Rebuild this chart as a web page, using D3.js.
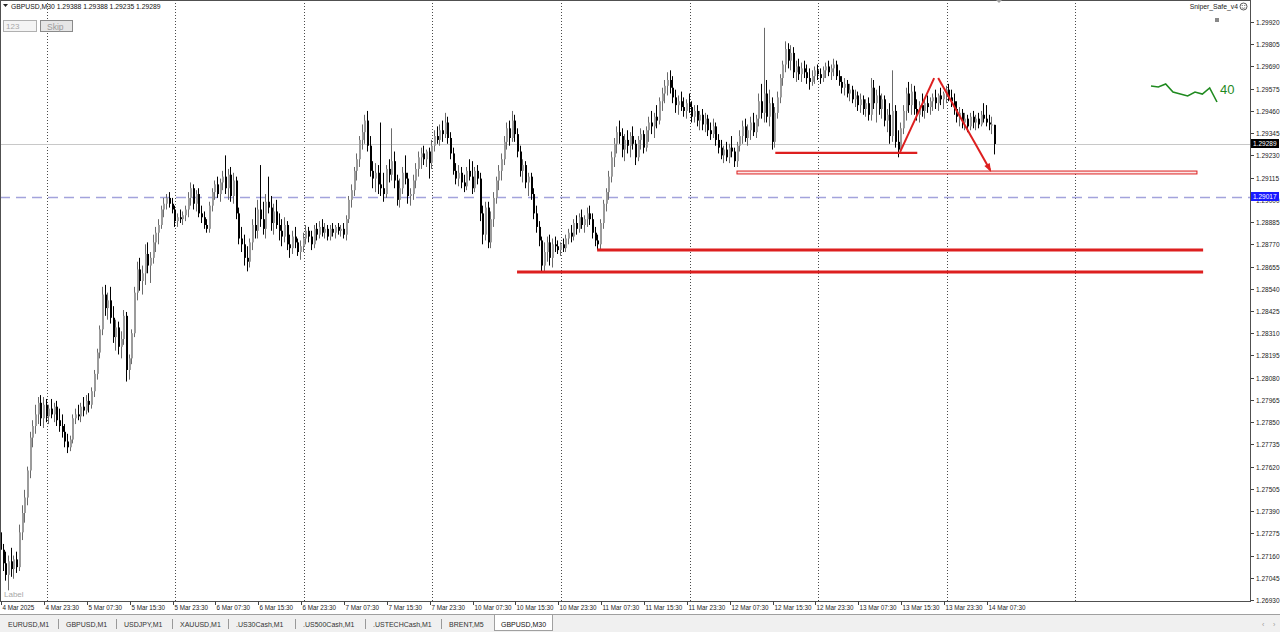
<!DOCTYPE html>
<html><head><meta charset="utf-8">
<script src="https://cdn.jsdelivr.net/npm/d3@7"></script>
<style>html,body{margin:0;padding:0;background:#fff;overflow:hidden}svg{display:block}text{font-family:"Liberation Sans",Arial,sans-serif}</style>
</head><body><svg id="c" width="1280" height="632"></svg>
<script>
// ---- GBPUSD M30 bars (bar 0 = 4 Mar 2025 15:30) ----
const opens=[
1.2728,1.2719,1.2712,1.2706,1.2713,1.2709,1.2714,1.2710,1.2728,1.2738,
1.2746,1.2760,1.2777,1.2783,1.2789,1.2795,1.2787,1.2794,1.2788,1.2792,
1.2789,1.2793,1.2786,1.2783,1.2780,1.2775,1.2772,1.2776,1.2787,1.2789,
1.2788,1.2793,1.2791,1.2796,1.2794,1.2801,1.2810,1.2821,1.2833,1.2851,
1.2844,1.2848,1.2839,1.2829,1.2834,1.2824,1.2828,1.2840,1.2812,1.2818,
1.2831,1.2852,1.2864,1.2858,1.2862,1.2872,1.2866,1.2870,1.2878,1.2883,
1.2887,1.2895,1.2898,1.2901,1.2898,1.2895,1.2889,1.2891,1.2890,1.2892,
1.2895,1.2901,1.2906,1.2898,1.2903,1.2893,1.2891,1.2887,1.2885,1.2897,
1.2904,1.2908,1.2903,1.2909,1.2912,1.2906,1.2913,1.2902,1.2910,1.2893,
1.2880,1.2877,1.2870,1.2868,1.2878,1.2887,1.2884,1.2895,1.2890,1.2885,
1.2899,1.2896,1.2888,1.2894,1.2887,1.2884,1.2881,1.2887,1.2877,1.2875,
1.2881,1.2878,1.2873,1.2876,1.2880,1.2884,1.2881,1.2877,1.2885,1.2882,
1.2886,1.2883,1.2885,1.2881,1.2885,1.2883,1.2886,1.2884,1.2885,1.2882,
1.2890,1.2900,1.2905,1.2915,1.2921,1.2931,1.2935,1.2941,1.2928,1.2915,
1.2911,1.2914,1.2908,1.2906,1.2903,1.2916,1.2913,1.2920,1.2910,1.2900,
1.2906,1.2914,1.2911,1.2902,1.2903,1.2910,1.2916,1.2922,1.2924,1.2921,
1.2925,1.2919,1.2928,1.2933,1.2931,1.2936,1.2934,1.2940,1.2932,1.2924,
1.2915,1.2911,1.2914,1.2909,1.2907,1.2915,1.2912,1.2906,1.2915,1.2911,
1.2893,1.2882,1.2896,1.2878,1.2890,1.2901,1.2910,1.2915,1.2921,1.2930,
1.2937,1.2932,1.2941,1.2934,1.2925,1.2915,1.2918,1.2909,1.2912,1.2903,
1.2893,1.2886,1.2879,1.2866,1.2873,1.2878,1.2870,1.2877,1.2876,1.2874,
1.2877,1.2875,1.2880,1.2883,1.2881,1.2888,1.2885,1.2891,1.2887,1.2890,
1.2893,1.2890,1.2883,1.2879,1.2877,1.2888,1.2898,1.2904,1.2912,1.2922,
1.2929,1.2935,1.2933,1.2926,1.2931,1.2928,1.2933,1.2929,1.2922,1.2931,
1.2934,1.2927,1.2936,1.2940,1.2938,1.2943,1.2941,1.2951,1.2955,1.2959,
1.2962,1.2958,1.2953,1.2949,1.2951,1.2948,1.2946,1.2950,1.2948,1.2943,
1.2946,1.2941,1.2944,1.2939,1.2942,1.2936,1.2934,1.2938,1.2931,1.2927,
1.2923,1.2926,1.2922,1.2927,1.2925,1.2920,1.2928,1.2933,1.2938,1.2932,
1.2936,1.2940,1.2935,1.2942,1.2951,1.2945,1.2955,1.2943,1.2950,1.2930,
1.2945,1.2953,1.2963,1.2970,1.2978,1.2972,1.2976,1.2966,1.2969,1.2965,
1.2968,1.2966,1.2963,1.2961,1.2964,1.2967,1.2965,1.2963,1.2967,1.2969,
1.2966,1.2968,1.2970,1.2964,1.2961,1.2958,1.2960,1.2955,1.2957,1.2952,
1.2954,1.2949,1.2952,1.2947,1.2950,1.2944,1.2958,1.2950,1.2954,1.2947,
1.2952,1.2941,1.2944,1.2933,1.2946,1.2930,1.2926,1.2937,1.2946,1.2955,
1.2949,1.2956,1.2947,1.2944,1.2949,1.2946,1.2950,1.2948,1.2951,1.2953,
1.2950,1.2954,1.2952,1.2955,1.2957,1.2953,1.2951,1.2947,1.2943,1.2945,
1.2940,1.2942,1.2938,1.2943,1.2940,1.2942,1.2939,1.2944,1.2942,1.2940,
1.2939,1.29388];
const highs=[
1.2732,1.2722,1.2718,1.2716,1.2720,1.2716,1.2718,1.2732,1.2742,1.2750,
1.2762,1.2780,1.2786,1.2794,1.2798,1.2799,1.2798,1.2797,1.2794,1.2797,
1.2795,1.2796,1.2792,1.2789,1.2784,1.2779,1.2778,1.2789,1.2792,1.2794,
1.2795,1.2798,1.2799,1.2800,1.2803,1.2812,1.2823,1.2835,1.2855,1.2856,
1.2852,1.2855,1.2845,1.2838,1.2837,1.2832,1.2843,1.2842,1.2820,1.2833,
1.2855,1.2868,1.2870,1.2866,1.2877,1.2878,1.2873,1.2882,1.2886,1.2890,
1.2897,1.2901,1.2903,1.2904,1.2901,1.2897,1.2893,1.2895,1.2894,1.2897,
1.2904,1.2909,1.2908,1.2905,1.2906,1.2897,1.2894,1.2890,1.2899,1.2906,
1.2910,1.2912,1.2911,1.2915,1.2923,1.2916,1.2917,1.2914,1.2912,1.2896,
1.2886,1.2882,1.2876,1.2880,1.2890,1.2896,1.2900,1.2918,1.2899,1.2903,
1.2912,1.2902,1.2898,1.2900,1.2893,1.2890,1.2891,1.2889,1.2882,1.2884,
1.2886,1.2880,1.2879,1.2883,1.2887,1.2886,1.2884,1.2887,1.2888,1.2889,
1.2890,1.2888,1.2887,1.2887,1.2888,1.2887,1.2888,1.2887,1.2888,1.2892,
1.2902,1.2908,1.2917,1.2924,1.2933,1.2939,1.2944,1.2946,1.2933,1.2920,
1.2919,1.2918,1.2940,1.2914,1.2918,1.2921,1.2937,1.2925,1.2913,1.2911,
1.2917,1.2923,1.2914,1.2906,1.2913,1.2919,1.2925,1.2927,1.2928,1.2926,
1.2927,1.2931,1.2936,1.2938,1.2939,1.2941,1.2945,1.2943,1.2935,1.2927,
1.2919,1.2918,1.2917,1.2913,1.2917,1.2921,1.2920,1.2917,1.2918,1.2914,
1.2897,1.2899,1.2899,1.2894,1.2904,1.2912,1.2918,1.2924,1.2933,1.2940,
1.2941,1.2946,1.2944,1.2937,1.2928,1.2921,1.2920,1.2914,1.2914,1.2906,
1.2897,1.2889,1.2881,1.2878,1.2881,1.2882,1.2880,1.2881,1.2879,1.2878,
1.2880,1.2882,1.2885,1.2887,1.2890,1.2892,1.2893,1.2895,1.2892,1.2896,
1.2897,1.2893,1.2886,1.2882,1.2890,1.2900,1.2906,1.2915,1.2925,1.2932,
1.2938,1.2941,1.2937,1.2934,1.2936,1.2935,1.2938,1.2931,1.2933,1.2937,
1.2936,1.2938,1.2943,1.2946,1.2945,1.2949,1.2953,1.2958,1.2962,1.2966,
1.2967,1.2964,1.2957,1.2954,1.2956,1.2953,1.2952,1.2955,1.2951,1.2949,
1.2949,1.2946,1.2947,1.2945,1.2944,1.2940,1.2942,1.2940,1.2934,1.2931,
1.2928,1.2930,1.2929,1.2933,1.2927,1.2930,1.2936,1.2941,1.2942,1.2939,
1.2943,1.2945,1.2944,1.2955,1.2960,1.2989,1.2962,1.2957,1.2953,1.2948,
1.2956,1.2965,1.2972,1.2982,1.2981,1.2980,1.2979,1.2972,1.2973,1.2971,
1.2972,1.2970,1.2968,1.2967,1.2969,1.2970,1.2968,1.2969,1.2971,1.2972,
1.2970,1.2973,1.2972,1.2967,1.2964,1.2963,1.2962,1.2960,1.2959,1.2957,
1.2956,1.2955,1.2954,1.2952,1.2953,1.2963,1.2962,1.2957,1.2959,1.2955,
1.2954,1.2947,1.2950,1.2967,1.2949,1.2936,1.2940,1.2949,1.2958,1.2961,
1.2960,1.2959,1.2952,1.2951,1.2955,1.2952,1.2954,1.2953,1.2955,1.2957,
1.2955,1.2958,1.2956,1.2959,1.2960,1.2957,1.2955,1.2951,1.2948,1.2947,
1.2945,1.2944,1.2945,1.2946,1.2944,1.2945,1.2946,1.2950,1.2949,1.2944,
1.2943,1.29388];
const lows=[
1.2716,1.2708,1.2703,1.2698,1.2705,1.2704,1.2707,1.2708,1.2724,1.2733,
1.2742,1.2756,1.2772,1.2779,1.2784,1.2783,1.2782,1.2785,1.2784,1.2787,
1.2785,1.2783,1.2780,1.2777,1.2772,1.2769,1.2770,1.2774,1.2784,1.2786,
1.2785,1.2788,1.2789,1.2790,1.2792,1.2798,1.2807,1.2818,1.2830,1.2840,
1.2838,1.2836,1.2826,1.2822,1.2820,1.2818,1.2825,1.2806,1.2807,1.2815,
1.2829,1.2848,1.2853,1.2851,1.2856,1.2862,1.2857,1.2867,1.2873,1.2877,
1.2885,1.2891,1.2895,1.2896,1.2893,1.2886,1.2886,1.2888,1.2887,1.2889,
1.2891,1.2897,1.2895,1.2894,1.2891,1.2888,1.2885,1.2883,1.2883,1.2894,
1.2900,1.2901,1.2899,1.2905,1.2903,1.2900,1.2899,1.2898,1.2890,1.2877,
1.2873,1.2866,1.2863,1.2865,1.2874,1.2880,1.2880,1.2886,1.2882,1.2880,
1.2893,1.2884,1.2882,1.2885,1.2879,1.2876,1.2878,1.2874,1.2870,1.2872,
1.2875,1.2871,1.2869,1.2873,1.2877,1.2878,1.2874,1.2875,1.2879,1.2880,
1.2881,1.2880,1.2879,1.2879,1.2881,1.2880,1.2882,1.2881,1.2880,1.2879,
1.2888,1.2896,1.2902,1.2910,1.2917,1.2926,1.2929,1.2925,1.2912,1.2906,
1.2904,1.2903,1.2902,1.2899,1.2901,1.2909,1.2910,1.2906,1.2897,1.2896,
1.2903,1.2908,1.2898,1.2897,1.2900,1.2906,1.2912,1.2916,1.2918,1.2917,
1.2911,1.2916,1.2925,1.2929,1.2928,1.2930,1.2932,1.2929,1.2921,1.2913,
1.2908,1.2907,1.2906,1.2904,1.2905,1.2910,1.2903,1.2904,1.2908,1.2889,
1.2877,1.2879,1.2875,1.2875,1.2886,1.2898,1.2905,1.2910,1.2918,1.2926,
1.2928,1.2930,1.2930,1.2922,1.2912,1.2909,1.2906,1.2902,1.2900,1.2890,
1.2883,1.2876,1.2863,1.2863,1.2868,1.2866,1.2865,1.2873,1.2872,1.2871,
1.2873,1.2873,1.2877,1.2878,1.2879,1.2882,1.2883,1.2885,1.2883,1.2886,
1.2887,1.2880,1.2876,1.2874,1.2874,1.2885,1.2894,1.2900,1.2909,1.2917,
1.2924,1.2929,1.2922,1.2920,1.2924,1.2922,1.2926,1.2918,1.2920,1.2926,
1.2924,1.2925,1.2930,1.2934,1.2932,1.2937,1.2939,1.2946,1.2950,1.2954,
1.2955,1.2950,1.2945,1.2944,1.2946,1.2943,1.2942,1.2945,1.2940,1.2940,
1.2938,1.2936,1.2936,1.2935,1.2933,1.2931,1.2932,1.2928,1.2924,1.2921,
1.2919,1.2920,1.2919,1.2922,1.2917,1.2917,1.2925,1.2929,1.2930,1.2928,
1.2931,1.2933,1.2932,1.2938,1.2942,1.2940,1.2940,1.2938,1.2926,1.2927,
1.2942,1.2950,1.2959,1.2966,1.2968,1.2967,1.2963,1.2961,1.2962,1.2961,
1.2963,1.2960,1.2957,1.2959,1.2960,1.2962,1.2960,1.2961,1.2963,1.2964,
1.2962,1.2964,1.2962,1.2959,1.2955,1.2954,1.2953,1.2951,1.2950,1.2948,
1.2946,1.2945,1.2944,1.2943,1.2941,1.2941,1.2947,1.2940,1.2944,1.2942,
1.2938,1.2935,1.2929,1.2930,1.2927,1.2922,1.2924,1.2934,1.2941,1.2945,
1.2944,1.2944,1.2941,1.2940,1.2943,1.2942,1.2945,1.2944,1.2946,1.2947,
1.2946,1.2949,1.2947,1.2950,1.2951,1.2948,1.2944,1.2940,1.2938,1.2937,
1.2936,1.2935,1.2936,1.2937,1.2936,1.2937,1.2938,1.2940,1.2938,1.2936,
1.2934,1.29235];
const closes=[
1.2719,1.2712,1.2706,1.2713,1.2709,1.2714,1.2710,1.2728,1.2738,1.2746,
1.2760,1.2777,1.2783,1.2789,1.2795,1.2787,1.2794,1.2788,1.2792,1.2789,
1.2793,1.2786,1.2783,1.2780,1.2775,1.2772,1.2776,1.2787,1.2789,1.2788,
1.2793,1.2791,1.2796,1.2794,1.2801,1.2810,1.2821,1.2833,1.2851,1.2844,
1.2848,1.2839,1.2829,1.2834,1.2824,1.2828,1.2840,1.2812,1.2818,1.2831,
1.2852,1.2864,1.2858,1.2862,1.2872,1.2866,1.2870,1.2878,1.2883,1.2887,
1.2895,1.2898,1.2901,1.2898,1.2895,1.2889,1.2891,1.2890,1.2892,1.2895,
1.2901,1.2906,1.2898,1.2903,1.2893,1.2891,1.2887,1.2885,1.2897,1.2904,
1.2908,1.2903,1.2909,1.2912,1.2906,1.2913,1.2902,1.2910,1.2893,1.2880,
1.2877,1.2870,1.2868,1.2878,1.2887,1.2884,1.2895,1.2890,1.2885,1.2899,
1.2896,1.2888,1.2894,1.2887,1.2884,1.2881,1.2887,1.2877,1.2875,1.2881,
1.2878,1.2873,1.2876,1.2880,1.2884,1.2881,1.2877,1.2885,1.2882,1.2886,
1.2883,1.2885,1.2881,1.2885,1.2883,1.2886,1.2884,1.2885,1.2882,1.2890,
1.2900,1.2905,1.2915,1.2921,1.2931,1.2935,1.2941,1.2928,1.2915,1.2911,
1.2914,1.2908,1.2906,1.2903,1.2916,1.2913,1.2920,1.2910,1.2900,1.2906,
1.2914,1.2911,1.2902,1.2903,1.2910,1.2916,1.2922,1.2924,1.2921,1.2925,
1.2919,1.2928,1.2933,1.2931,1.2936,1.2934,1.2940,1.2932,1.2924,1.2915,
1.2911,1.2914,1.2909,1.2907,1.2915,1.2912,1.2906,1.2915,1.2911,1.2893,
1.2882,1.2896,1.2878,1.2890,1.2901,1.2910,1.2915,1.2921,1.2930,1.2937,
1.2932,1.2941,1.2934,1.2925,1.2915,1.2918,1.2909,1.2912,1.2903,1.2893,
1.2886,1.2879,1.2866,1.2873,1.2878,1.2870,1.2877,1.2876,1.2874,1.2877,
1.2875,1.2880,1.2883,1.2881,1.2888,1.2885,1.2891,1.2887,1.2890,1.2893,
1.2890,1.2883,1.2879,1.2877,1.2888,1.2898,1.2904,1.2912,1.2922,1.2929,
1.2935,1.2933,1.2926,1.2931,1.2928,1.2933,1.2929,1.2922,1.2931,1.2934,
1.2927,1.2936,1.2940,1.2938,1.2943,1.2941,1.2951,1.2955,1.2959,1.2962,
1.2958,1.2953,1.2949,1.2951,1.2948,1.2946,1.2950,1.2948,1.2943,1.2946,
1.2941,1.2944,1.2939,1.2942,1.2936,1.2934,1.2938,1.2931,1.2927,1.2923,
1.2926,1.2922,1.2927,1.2925,1.2920,1.2928,1.2933,1.2938,1.2932,1.2936,
1.2940,1.2935,1.2942,1.2951,1.2945,1.2955,1.2943,1.2950,1.2930,1.2945,
1.2953,1.2963,1.2970,1.2978,1.2972,1.2976,1.2966,1.2969,1.2965,1.2968,
1.2966,1.2963,1.2961,1.2964,1.2967,1.2965,1.2963,1.2967,1.2969,1.2966,
1.2968,1.2970,1.2964,1.2961,1.2958,1.2960,1.2955,1.2957,1.2952,1.2954,
1.2949,1.2952,1.2947,1.2950,1.2944,1.2958,1.2950,1.2954,1.2947,1.2952,
1.2941,1.2944,1.2933,1.2946,1.2930,1.2926,1.2937,1.2946,1.2955,1.2949,
1.2956,1.2947,1.2944,1.2949,1.2946,1.2950,1.2948,1.2951,1.2953,1.2950,
1.2954,1.2952,1.2955,1.2957,1.2953,1.2951,1.2947,1.2943,1.2945,1.2940,
1.2942,1.2938,1.2943,1.2940,1.2942,1.2939,1.2944,1.2942,1.2940,1.2939,
1.2939,1.29289];

const timeLabels=["4 Mar 2025","4 Mar 23:30","5 Mar 07:30","5 Mar 15:30","5 Mar 23:30","6 Mar 07:30","6 Mar 15:30","6 Mar 23:30","7 Mar 07:30","7 Mar 15:30","7 Mar 23:30","10 Mar 07:30","10 Mar 15:30","10 Mar 23:30","11 Mar 07:30","11 Mar 15:30","11 Mar 23:30","12 Mar 07:30","12 Mar 15:30","12 Mar 23:30","13 Mar 07:30","13 Mar 15:30","13 Mar 23:30","14 Mar 07:30"];
const dayStartBars=[17,65,113,161,209,257,305,353,401];
const priceTicks=[1.26930,1.27045,1.27160,1.27275,1.27390,1.27505,1.27620,1.27735,1.27850,1.27965,1.28080,1.28195,1.28310,1.28425,1.28540,1.28655,1.28770,1.28885,1.29000,1.29115,1.29230,1.29345,1.29460,1.29575,1.29690,1.29805,1.29920];
const bidPrice=1.29289, alertPrice=1.29017;
const levelPrices=[1.28627,1.28741,1.29243];
const levelFrom=[192.6,222.5,289];
const levelTo=[448.7,448.7,342];
const zonePrices=[1.29134,1.29149], zoneBars=[274.7,446.4];
const legUpBars=[335.6,348.3], legUpPrices=[1.29248,1.29630];
const legDownBars=[349.8,369.2], legDownPrices=[1.29630,1.29154];
const sniperValues=[52.5,52.0,53.5,49.5,48.5,47.5,49.5,48.5,51.5,44.5];
const tabs=["EURUSD,M1","GBPUSD,M1","USDJPY,M1","XAUUSD,M1",".US30Cash,M1",".US500Cash,M1",".USTECHCash,M1","BRENT,M5","GBPUSD,M30"];
const tabX=[8,66,124,180,236,303,373,449,501];

const svg=d3.select("#c");
const W=1250,H=601;
const x=d3.scaleLinear().domain([-0.4,466.2]).range([0,W]);
const y=d3.scaleLinear().domain([1.26930,1.29920]).range([600,22]);
const bars=d3.range(closes.length).map(i=>({i,o:opens[i],h:highs[i],l:lows[i],c:closes[i]}));

svg.append("rect").attr("width",1280).attr("height",632).attr("fill","#fff");
const plot=svg.append("g");
plot.append("clipPath").attr("id","clp").append("rect").attr("x",0).attr("y",0).attr("width",W).attr("height",H);
const g=plot.append("g").attr("clip-path","url(#clp)");

// vertical day grid
g.selectAll(".vg").data(dayStartBars).join("line")
 .attr("x1",d=>Math.round(x(d))+0.5).attr("x2",d=>Math.round(x(d))+0.5)
 .attr("y1",0).attr("y2",H).attr("stroke","#4a4a4a").attr("stroke-dasharray","1,2");

// bid line
g.append("line").attr("x1",0).attr("x2",W).attr("y1",Math.round(y(bidPrice))+0.5).attr("y2",Math.round(y(bidPrice))+0.5)
 .attr("stroke","#c8c8c8");
// alert dashed line
g.append("line").attr("x1",0).attr("x2",W).attr("y1",Math.round(y(alertPrice))+0.5).attr("y2",Math.round(y(alertPrice))+0.5)
 .attr("stroke","#a3a3dc").attr("stroke-width",1.5).attr("stroke-dasharray","10,6");

// candles
const cg=g.append("g");
bars.forEach(b=>{
  const cx=Math.round(x(b.i));
  const up=b.c>=b.o;
  const top=y(Math.max(b.o,b.c)), bot=y(Math.min(b.o,b.c));
  cg.append("line").attr("x1",cx-0.5).attr("x2",cx-0.5).attr("y1",y(b.h)).attr("y2",y(b.l))
    .attr("stroke",up?"#6a6a6a":"#000").attr("stroke-width",1);
  cg.append("rect").attr("x",cx-1).attr("width",2).attr("y",top).attr("height",Math.max(1,bot-top))
    .attr("fill",up?"#9c9c9c":"#000");
});

// red levels
const red="#dd1f1f";
g.selectAll(".lv").data(levelPrices).join("line")
 .attr("x1",(d,k)=>x(levelFrom[k])).attr("x2",(d,k)=>x(levelTo[k]))
 .attr("y1",d=>y(d)).attr("y2",d=>y(d))
 .attr("stroke",red).attr("stroke-width",(d,k)=>k===2?2.2:3);
g.append("rect").attr("x",x(zoneBars[0])).attr("width",x(zoneBars[1])-x(zoneBars[0]))
 .attr("y",y(zonePrices[1])).attr("height",y(zonePrices[0])-y(zonePrices[1]))
 .attr("fill","#fbe9e9").attr("stroke",red).attr("stroke-width",1);
g.append("line").attr("x1",x(legUpBars[0])).attr("y1",y(legUpPrices[0])).attr("x2",x(legUpBars[1])).attr("y2",y(legUpPrices[1]))
 .attr("stroke",red).attr("stroke-width",2);
g.append("line").attr("x1",x(legDownBars[0])).attr("y1",y(legDownPrices[0])).attr("x2",x(legDownBars[1])).attr("y2",y(legDownPrices[1]))
 .attr("stroke",red).attr("stroke-width",2);
{
  const x1=x(legDownBars[0]),y1=y(legDownPrices[0]),x2=x(legDownBars[1]),y2=y(legDownPrices[1]);
  const a=Math.atan2(y2-y1,x2-x1), L=7, s=0.45;
  const p=[[x2+1,y2+2],[x2-L*Math.cos(a-s),y2-L*Math.sin(a-s)],[x2-L*Math.cos(a+s),y2-L*Math.sin(a+s)]];
  g.append("path").attr("d","M"+p.map(q=>q.join(",")).join("L")+"Z").attr("fill",red);
}

// sniper indicator
const sx=d3.scaleLinear().domain([0,sniperValues.length-1]).range([1151,1217]);
const sy=d3.scaleLinear().domain([44.5,53.5]).range([102,84]);
g.append("path").attr("d",d3.line().x((d,k)=>sx(k)).y(d=>sy(d))(sniperValues))
 .attr("fill","none").attr("stroke","#1f8a1f").attr("stroke-width",1.6);
g.append("text").attr("x",1220).attr("y",94).attr("font-size",13).attr("fill","#1f8a1f").text("40");

// frame
svg.append("rect").attr("x",0.5).attr("y",0.5).attr("width",W).attr("height",H).attr("fill","none").attr("stroke","#505050");

// top-left info
svg.append("path").attr("d","M3,4L8,4L5.5,7Z").attr("fill","#222");
svg.append("text").attr("x",11).attr("y",8.5).attr("font-size",6.8).attr("fill","#111")
 .text("GBPUSD,M30  1.29388 1.29388 1.29235 1.29289");
svg.append("rect").attr("x",3.5).attr("y",20.5).attr("width",33).attr("height",11).attr("fill","#f4f4f4").attr("stroke","#b0b0b0");
svg.append("text").attr("x",6).attr("y",29).attr("font-size",8).attr("fill","#a8a8a8").text("123");
svg.append("rect").attr("x",40.5).attr("y",20.5).attr("width",32).attr("height",11).attr("fill","#e6e6e6").attr("stroke","#8a8a8a");
svg.append("text").attr("x",47).attr("y",29.5).attr("font-size",8.5).attr("fill","#9a9a9a").text("Skip");
svg.append("text").attr("x",4).attr("y",597).attr("font-size",8).attr("fill","#a8a8a8").text("Label");
// top right
svg.append("text").attr("x",1238).attr("y",9).attr("text-anchor","end").attr("font-size",6.8).attr("fill","#222").text("Sniper_Safe_v4");
svg.append("circle").attr("cx",1243.5).attr("cy",6.5).attr("r",3.5).attr("fill","none").attr("stroke","#333").attr("stroke-width",0.8);
svg.append("circle").attr("cx",1242.2).attr("cy",5.6).attr("r",0.5).attr("fill","#333");
svg.append("circle").attr("cx",1244.8).attr("cy",5.6).attr("r",0.5).attr("fill","#333");
svg.append("path").attr("d","M1241.8,7.6Q1243.5,9.3 1245.2,7.6").attr("fill","none").attr("stroke","#333").attr("stroke-width",0.6);
svg.append("rect").attr("x",1215).attr("y",18).attr("width",4).attr("height",4).attr("fill","#888");
svg.append("path").attr("d","M996,0L1002,0L999,3Z").attr("fill","#a0a0a0");

// price axis
const pa=svg.append("g");
priceTicks.forEach(p=>{
  const yy=Math.round(y(p))+0.5;
  pa.append("line").attr("x1",1251).attr("x2",1254).attr("y1",yy).attr("y2",yy).attr("stroke","#444");
  pa.append("text").attr("x",1256).attr("y",yy+2.5).attr("font-size",6.5).attr("fill","#222").text(p.toFixed(5));
});
// price tags
function tag(p,bg,fg){
  const yy=Math.round(y(p));
  pa.append("rect").attr("x",1251).attr("y",yy-5).attr("width",28).attr("height",9).attr("fill",bg);
  pa.append("text").attr("x",1253).attr("y",yy+2).attr("font-size",6.5).attr("fill",fg).text(p.toFixed(5));
}
tag(bidPrice,"#000","#fff");
tag(alertPrice,"#1a1aff","#fff");

// time axis
const ta=svg.append("g");
timeLabels.forEach((t,k)=>{
  const xx=Math.round(x(k*16))+0.5;
  ta.append("line").attr("x1",xx).attr("x2",xx).attr("y1",601).attr("y2",605).attr("stroke","#444");
  ta.append("text").attr("x",xx+1).attr("y",610).attr("font-size",6.3).attr("fill","#222").text(t);
});

// tabs
svg.append("rect").attr("x",0).attr("y",614).attr("width",1280).attr("height",18).attr("fill","#f0f0f0");
svg.append("line").attr("x1",0).attr("x2",1280).attr("y1",614.5).attr("y2",614.5).attr("stroke","#a0a0a0");
svg.append("rect").attr("x",494.5).attr("y",614.5).attr("width",58).attr("height",16).attr("fill","#fff").attr("stroke","#a0a0a0");
tabs.forEach((t,k)=>{
  svg.append("text").attr("x",tabX[k]).attr("y",627).attr("font-size",7).attr("fill",k===tabs.length-1?"#111":"#333").text(t);
  if(k>0&&k<tabs.length-1) svg.append("line").attr("x1",tabX[k]-7.5).attr("x2",tabX[k]-7.5).attr("y1",619).attr("y2",629).attr("stroke","#999");
});
svg.append("text").attr("x",1262).attr("y",627).attr("font-size",7).attr("fill","#999").text("‹");
svg.append("text").attr("x",1273).attr("y",627).attr("font-size",7).attr("fill","#999").text("›");
</script></body></html>
